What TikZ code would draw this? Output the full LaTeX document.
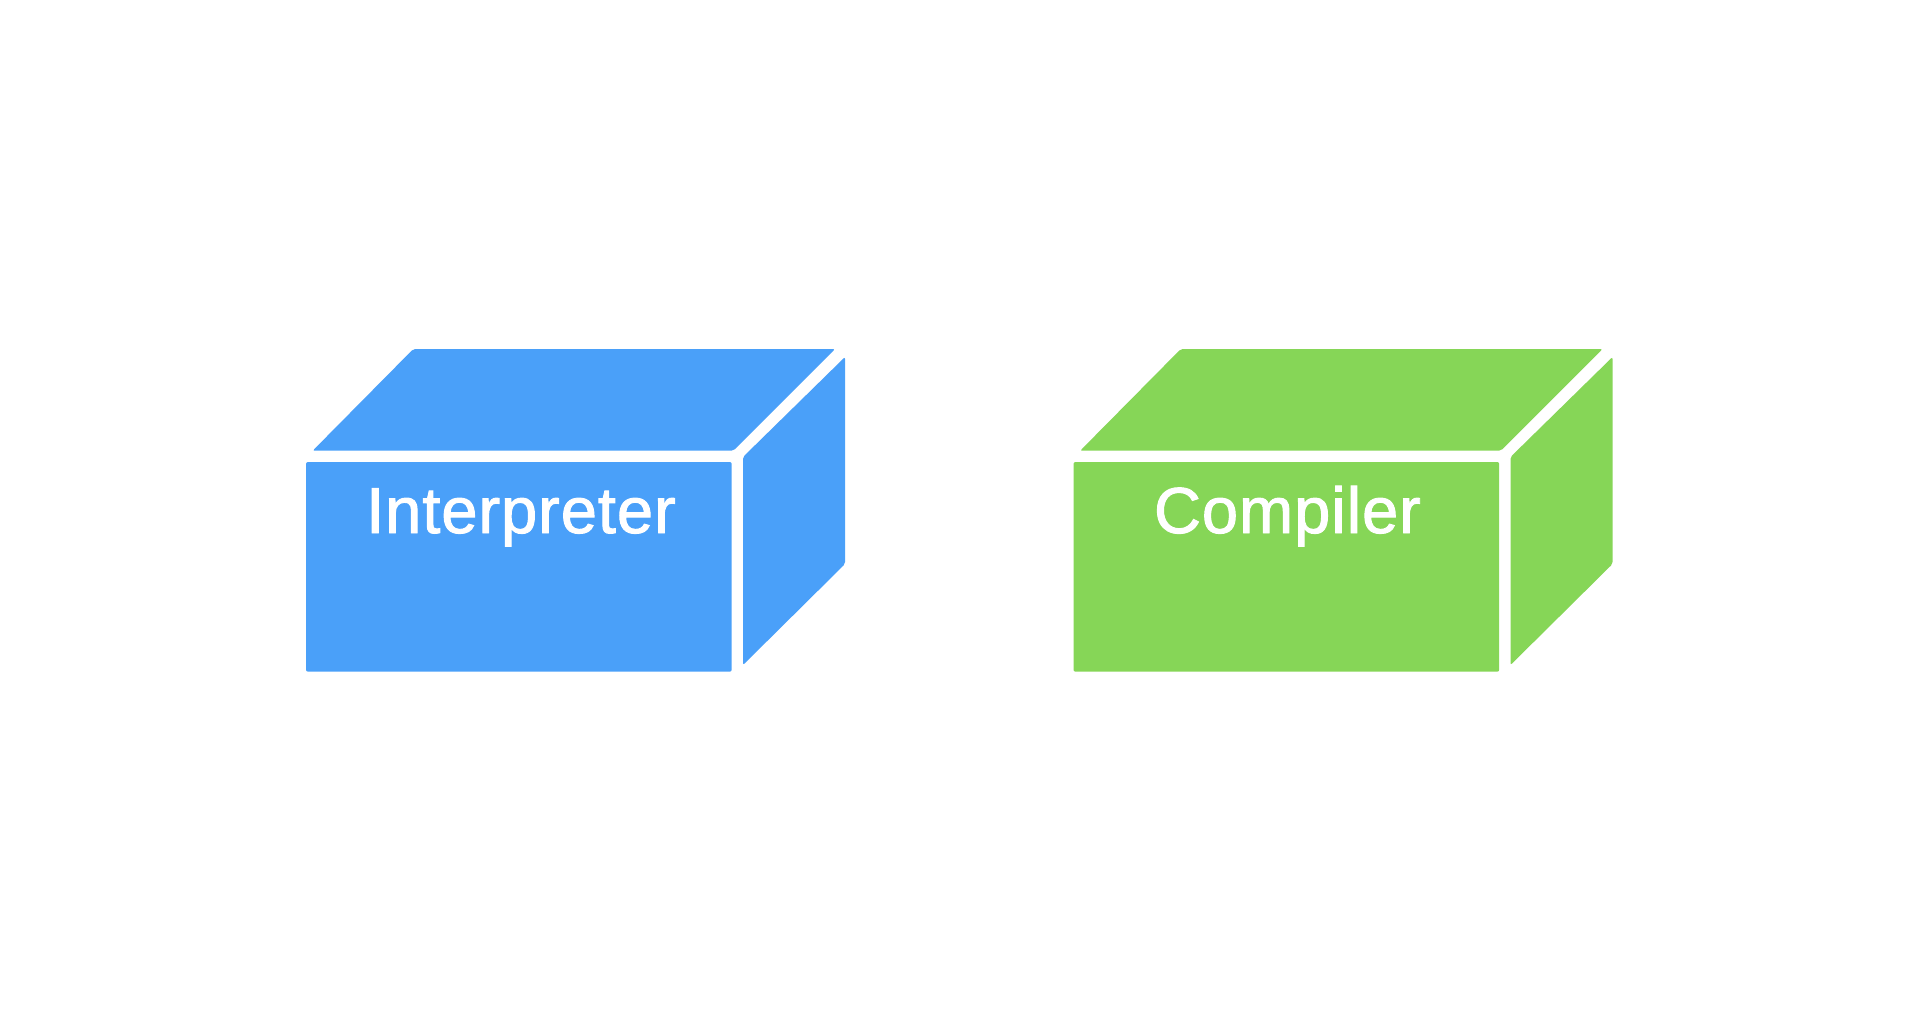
\documentclass[tikz,border=0pt]{standalone}
\usepackage{fontspec}
\setmainfont{Liberation Sans}
\newfontfamily\boxfont{Liberation Sans}[FakeBold=1.5, LetterSpace=1.5]
\definecolor{boxblue}{RGB}{74,160,249}
\definecolor{boxgreen}{RGB}{134,214,87}
\begin{document}
\begin{tikzpicture}[x=1pt,y=-1pt,
  face/.style={fill=#1, draw=none, rounded corners=2pt},
  boxtext/.style={text=white, font=\boxfont\fontsize{65}{78}\selectfont, anchor=base, inner sep=0pt}]
\useasboundingbox[fill=white] (0,0) rectangle (1908,1032);
% Interpreter box
\begin{scope}
  \fill[face=boxblue] (306,462) rectangle (731.7,671.7);
  \fill[face=boxblue] (312.7,450.7) -- (733.3,450.7) -- (835,349) -- (413.3,349) -- cycle;
  \fill[face=boxblue] (743,457) -- (845,357) -- (845,564) -- (743,665) -- cycle;
  \node[boxtext] (interp) at (521,533) {Interpreter};
\end{scope}
% Compiler box
\begin{scope}[shift={(767.5,0)}]
  \fill[face=boxgreen] (306,462) rectangle (731.7,671.7);
  \fill[face=boxgreen] (312.7,450.7) -- (733.3,450.7) -- (835,349) -- (413.3,349) -- cycle;
  \fill[face=boxgreen] (743,457) -- (845,357) -- (845,564) -- (743,665) -- cycle;
  \node[boxtext] (comp) at (520,533) {Compiler};
\end{scope}
\end{tikzpicture}
\end{document}
